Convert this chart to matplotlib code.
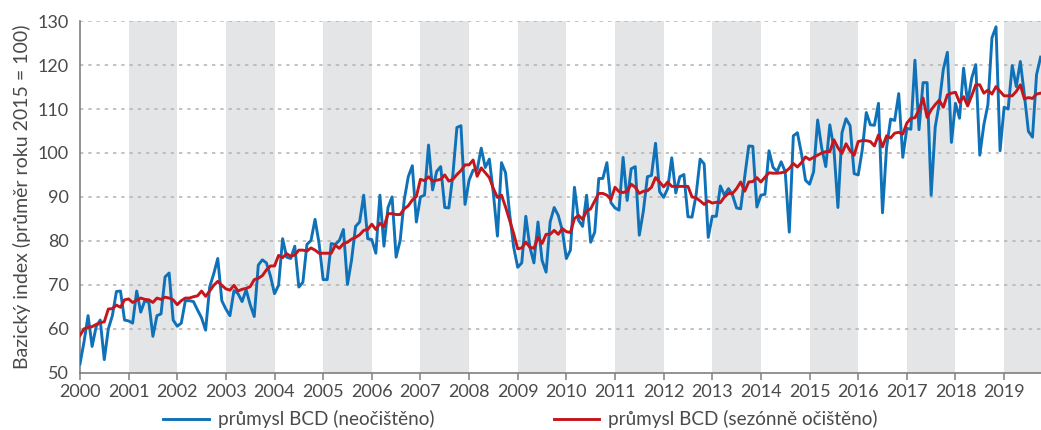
import matplotlib
matplotlib.use("Agg")
import matplotlib.pyplot as plt
import numpy as np

# ---------------- data ----------------
years = list(range(2000, 2020))
year_labels = [str(y) for y in years]

neocisteno = [
    52, 57, 63, 56, 60.5, 62, 53, 60, 63, 68.5, 68.6, 62,                 # 2000
    61.8, 61.3, 68.6, 63.8, 66.4, 66, 58.3, 63, 63.4, 71.8, 72.7, 62,     # 2001
    60.6, 61.3, 66.4, 66.4, 66.2, 64.3, 62.5, 59.7, 69.5, 72.5, 76, 66.4, # 2002
    64.5, 63, 68.7, 68, 66.2, 68.9, 65.5, 62.8, 74.5, 75.7, 75, 72,       # 2003
    68, 69.9, 80.5, 76.3, 76, 78.8, 69.5, 70.6, 79.2, 80.1, 84.9, 79.4,   # 2004
    71.2, 71.2, 79.4, 79.2, 80.1, 82.6, 70.1, 75.6, 83.3, 84.3, 90.4, 80.5,  # 2005
    80.3, 77.2, 90.4, 78.8, 87.6, 90, 76.3, 80.1, 89.3, 94.6, 97.1, 84.3,    # 2006
    90, 90.4, 101.8, 91.6, 95.8, 96.9, 87.6, 87.5, 95, 105.8, 106.2, 88.3,   # 2007
    93.8, 96.1, 96.2, 101.1, 96.7, 98.6, 90.8, 81.1, 97.8, 95.5, 86.2, 78.6, # 2008
    74, 75, 85.6, 78.6, 75, 84.3, 75.6, 72.9, 84.3, 87.6, 85.8, 82.4,        # 2009
    76, 77.9, 92.2, 84.7, 83.3, 90.4, 79.7, 82, 94.2, 94.2, 97.8, 88.7,      # 2010
    87.5, 87, 99, 89.2, 96.4, 96.9, 81.3, 86.8, 94.6, 94.9, 102.2, 91.2,     # 2011
    89.9, 91.9, 98.9, 90.9, 94.6, 95.1, 85.5, 85.4, 90.4, 98.6, 97.5, 80.8,  # 2012
    85.6, 85.6, 92.5, 90.4, 91.9, 90.4, 87.5, 87.3, 94.6, 101.6, 101.5, 87.7,  # 2013
    90.4, 90.6, 100.5, 96.7, 95.8, 98, 95.7, 82, 103.9, 104.6, 99.9, 93.8,     # 2014
    92.9, 95.7, 107.5, 101.1, 96.9, 106.4, 101.1, 87.6, 104.6, 107.8, 106.2, 95.3,  # 2015
    95, 100.7, 109.2, 106.4, 106.3, 111.3, 86.4, 101.2, 107.7, 107.4, 113.5, 99,    # 2016
    105.6, 105.4, 121.1, 105.3, 116, 116, 90.4, 105.9, 111.3, 119, 122.9, 102.4,    # 2017
    111.3, 107.9, 119.3, 111.3, 117, 120.1, 99.5, 106.4, 111, 126.2, 128.7, 100.5,  # 2018
    110.4, 110, 119.9, 115.1, 120.8, 113.2, 104.9, 103.6, 117.8, 121.8,             # 2019
]

ocisteno = [
    58.5, 60, 60.3, 60.5, 61, 61.4, 61.6, 64.5, 64.6, 65.4, 64.9, 66.6,     # 2000
    66.8, 66, 66.5, 67, 66.7, 66.6, 66, 67, 66.7, 67.2, 67, 66.6,           # 2001
    65.5, 66.4, 67, 67, 67.3, 67.5, 68.6, 67.4, 68.6, 69.9, 70.8, 69.9,     # 2002
    69.1, 68.8, 69.9, 68.6, 69, 69.2, 69.6, 71.2, 71.5, 72.1, 73.4, 74.3,   # 2003
    74.3, 76.7, 76.2, 77.1, 76.5, 76.8, 77.9, 77.9, 77.7, 78.4, 77.9, 77.2, # 2004
    77.2, 77.2, 77.2, 79, 78.3, 79.4, 79.7, 80.4, 80.8, 81.4, 82.4, 82.6,   # 2005
    83.8, 82.6, 84, 83.2, 86.2, 86.2, 86, 86, 87.3, 88, 89.3, 90.1,         # 2006
    94, 93.7, 94.6, 93.6, 93.8, 94, 95, 93.6, 94, 95.1, 96, 97.3,           # 2007
    97.3, 98.4, 94.7, 96.6, 95.5, 94.4, 91.9, 89.9, 90.4, 87.7, 84.7, 81.7, # 2008
    78.2, 78.4, 79.7, 78.6, 78.3, 80.8, 79.4, 81.5, 81.5, 82.4, 81.5, 82.8, # 2009
    82.1, 81.9, 85.1, 85.8, 84.9, 86.8, 87.3, 89.1, 90.8, 90.8, 90.4, 89.4, # 2010
    92.2, 91.2, 91, 91.3, 92.9, 92.2, 90.8, 91.3, 91.4, 92.2, 94.4, 93.4,   # 2011
    92.3, 93.4, 92.4, 92.4, 92.4, 92.4, 92.4, 90, 89.8, 89.1, 88.3, 89.1,   # 2012
    88.6, 88.8, 88.7, 90, 90.8, 90.8, 91.9, 93.4, 91.3, 93.4, 93.5, 94.4,   # 2013
    93.4, 94.5, 95.5, 95.4, 95.4, 95.5, 95.7, 96.5, 97.6, 96.8, 97.8, 99.1, # 2014
    98.5, 99, 99.5, 100, 100.3, 100.3, 103, 101.2, 99.9, 102.1, 100.5, 99.5,        # 2015
    102.6, 102.8, 102.8, 102.6, 101.6, 104.1, 101.4, 103.9, 103.4, 104.5, 104.7, 104.3,  # 2016
    106.8, 107.9, 108, 109.8, 112.5, 108.1, 109.8, 111, 112, 110.4, 113.2, 113.6,   # 2017
    113.8, 111.5, 112.8, 110.7, 113, 115.5, 115.5, 113.6, 114.3, 113.4, 115.1, 114, # 2018
    113, 113, 113, 114, 115.5, 112.3, 112.6, 112.4, 113.4, 113.6,                   # 2019
]

label_neo = "průmysl BCD (neočištěno)"
label_oci = "průmysl BCD (sezónně očištěno)"
ylabel = "Bazický index (průměr roku 2015 = 100)"

# ---------------- style ----------------
FONT = ["Lato", "DejaVu Sans"]
plt.rcParams["font.family"] = FONT
TXT = "#4a4a4a"
BLUE = "#0f72b9"
RED = "#c4161c"
BAND = "#e4e5e7"
GRID = "#b3b3b3"
SPINE = "#808080"

fig = plt.figure(figsize=(10.41, 4.30), dpi=100)
ax = fig.add_axes([0.0768, 0.133, 0.9232, 0.818])

months = np.arange(len(neocisteno))
x_end = len(neocisteno) - 1 + 0.1

# alternating year bands
for i, y in enumerate(years):
    if i % 2 == 1:
        ax.axvspan(12 * i, 12 * (i + 1), color=BAND, lw=0, zorder=0)

# dashed horizontal grid
for v in range(60, 131, 10):
    ax.axhline(v, color=GRID, lw=1.1, ls=(0, (2.2, 3.2)), zorder=1)

ax.plot(months, neocisteno, color=BLUE, lw=2.1, zorder=3, label=label_neo)
ax.plot(np.arange(len(ocisteno)), ocisteno, color=RED, lw=2.1, zorder=4,
        label=label_oci)

ax.set_xlim(0, x_end)
ax.set_ylim(50, 130)
ax.set_xticks([12 * i for i in range(len(years))])
ax.set_xticklabels(year_labels)
ax.set_yticks(range(50, 131, 10))

for s in ["top", "right"]:
    ax.spines[s].set_visible(False)
for s in ["left", "bottom"]:
    ax.spines[s].set_color(SPINE)
    ax.spines[s].set_linewidth(1.2)

ax.tick_params(axis="x", direction="out", length=5, width=1.1, color=SPINE,
               labelsize=13, labelcolor=TXT, pad=3)
ax.tick_params(axis="y", length=0, labelsize=13, labelcolor=TXT, pad=8)
ax.set_ylabel(ylabel, fontsize=14, color=TXT, labelpad=5)

leg = fig.legend(loc="center", bbox_to_anchor=(0.5, 0.025), ncol=2,
                 frameon=False, fontsize=13.6, handlelength=2.4,
                 columnspacing=6.3, handletextpad=0.5, borderpad=0)
for t in leg.get_texts():
    t.set_color(TXT)

fig.savefig("out.png", dpi=100)
